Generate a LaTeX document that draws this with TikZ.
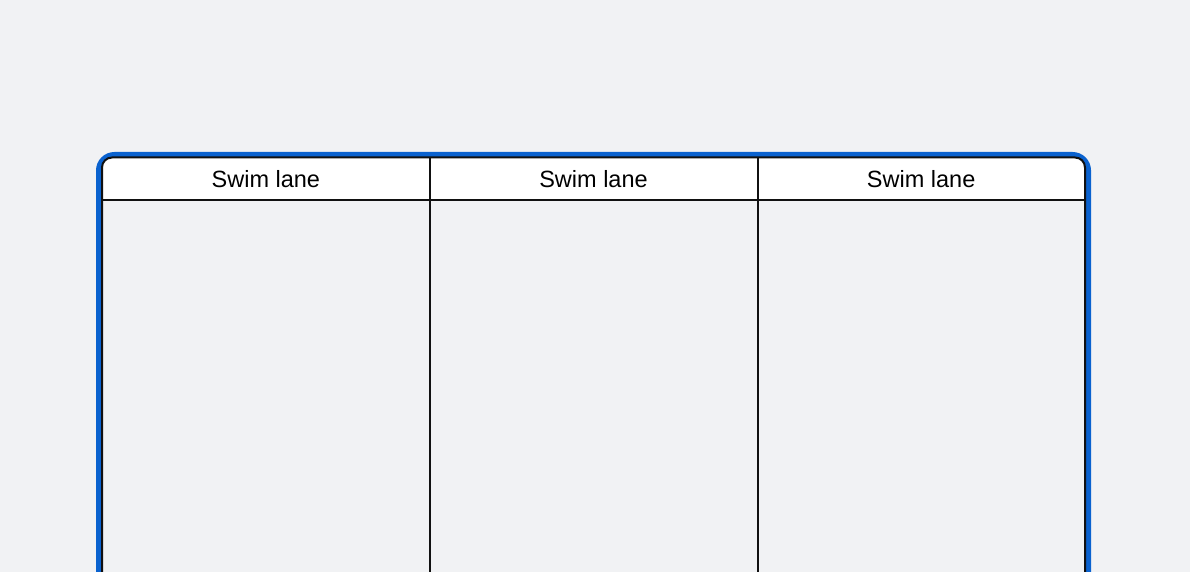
\documentclass[tikz,border=0pt]{standalone}
\usepackage{fontspec}
\setmainfont{Liberation Sans}
\definecolor{pagebg}{HTML}{F1F2F4}
\definecolor{frameblue}{HTML}{0A62CF}
\definecolor{laneline}{HTML}{111111}
\begin{document}
\begin{tikzpicture}
      [%%%%%%%%%%%%%%%%%%%%%%%%%%%%%%
      x=1pt,y=-1pt,
      lanehead/.style={rectangle,minimum width=327.67pt,minimum height=42.5pt,
        inner sep=0pt,font=\fontsize{23.5}{28}\selectfont},
      laneedge/.style={draw=laneline,line width=2pt},
      ]%%%%%%%%%%%%%%%%%%%%%%%%%%%%%%

      \useasboundingbox (0,0) rectangle (1190,572);
      \fill[pagebg] (0,0) rectangle (1190,572);
      \clip (0,0) rectangle (1190,572);

      % outer blue frame
      \draw[frameblue,line width=5pt,rounded corners=16pt] (98.5,154.5) rectangle (1088.5,640);

      % white header band
      \begin{scope}
        \clip[rounded corners=10pt] (102,157.5) rectangle (1085,640);
        \fill[white] (102,157.5) rectangle (1085,200);
      \end{scope}

      \foreach \i in {1,2,3}{
        \node[lanehead] (head\i) at (102+327.67*\i-163.83,178.75){Swim lane};
      }

      \coordinate (bodyend) at (0,640);
      \draw[laneedge] (head1.south west) -- (head3.south east);
      \draw[laneedge] (head1.north east) -- (head1.east |- bodyend);
      \draw[laneedge] (head2.north east) -- (head2.east |- bodyend);
      \draw[laneedge,rounded corners=10pt] (102,157.5) rectangle (1085,640);
    \end{tikzpicture}
\end{document}
